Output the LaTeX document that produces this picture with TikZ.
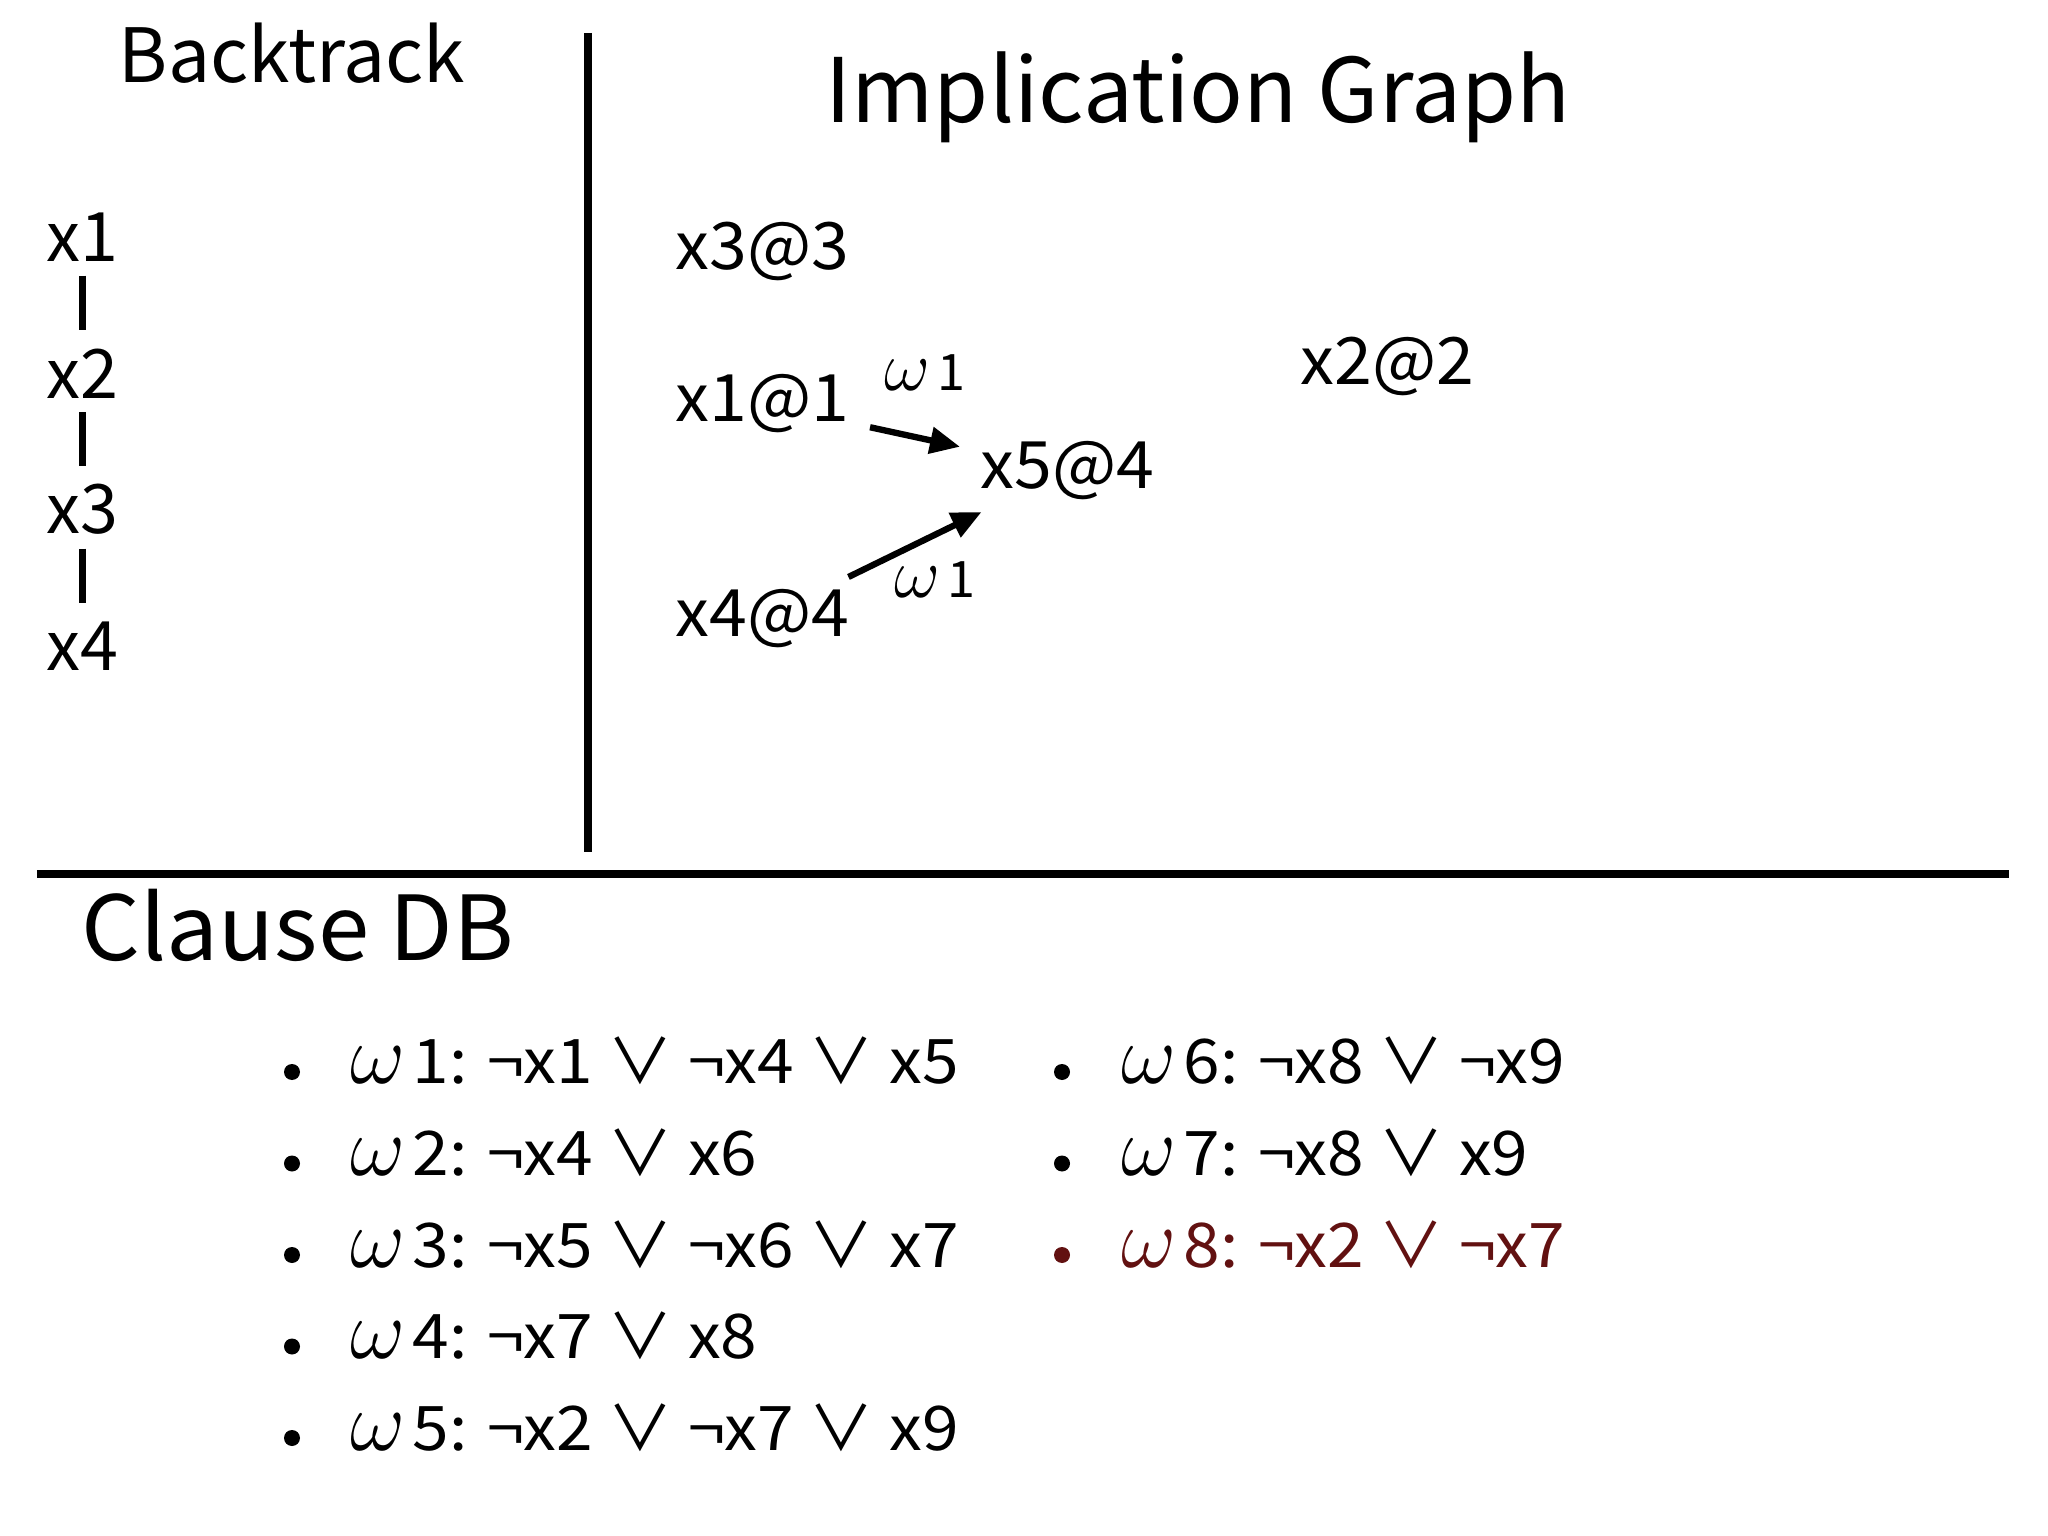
\documentclass[tikz,border=0pt]{standalone}
\usepackage{fontspec}
\setmainfont{Noto Sans CJK JP}
\usepackage{tikz}
\usetikzlibrary{arrows.meta}
\definecolor{clausered}{RGB}{98,17,17}
\newcommand{\om}[1]{\scalebox{1.4}{$\omega$}\kern2pt#1}
\tikzstyle{title}  = [inner sep=0, anchor=base]
\tikzstyle{var}    = [font=\fontsize{19.4}{23}\selectfont, inner sep=0]
\tikzstyle{lit}    = [font=\fontsize{18.6}{22}\selectfont\addfontfeatures{FakeStretch=1.04}, inner xsep=0.2cm, inner ysep=0.12cm]
\tikzstyle{clause} = [font=\fontsize{17.5}{21}\selectfont\addfontfeatures{FakeStretch=1.07}, inner sep=0, anchor=base west]
\tikzstyle{wlabel} = [font=\fontsize{14.3}{17}\selectfont, inner sep=0]
\tikzstyle{arrow}  = [line width=1.8pt, -{Triangle[length=0.3cm, width=0.26cm]}]
\tikzstyle{bar}    = [line width=2pt, shorten <=0.13cm, shorten >=0.18cm]
\tikzstyle{rule}   = [line width=2pt]

\begin{document}
\begin{tikzpicture}
      \fill[white] (0,0) rectangle (20.48,-15.36);
      \useasboundingbox (0,0) rectangle (20.48,-15.36);

      % panels
      \draw [rule] (5.88,-0.33) -- (5.88,-8.52);
      \draw [rule] (0.37,-8.74) -- (20.09,-8.74);

      \node (bt)   [title, font=\fontsize{21.3}{26}\selectfont] at (2.92,-0.83)  {Backtrack};
      \node (ig)   [title, font=\fontsize{25.3}{30}\selectfont] at (11.98,-1.23) {Implication Graph};
      \node (cdb)  [title, font=\fontsize{25.5}{30}\selectfont\addfontfeatures{FakeStretch=1.03}, anchor=base west] at (0.81,-9.60) {Clause DB};

      % backtrack stack
      \node (b1) [var, anchor=base west] at (0.46,-2.62) {x1};
      \node (b2) [var, below of=b1, node distance=1.36cm] {x2};
      \node (b3) [var, below of=b2, node distance=1.36cm] {x3};
      \node (b4) [var, below of=b3, node distance=1.36cm] {x4};

      \draw [bar] (b1) -- (b2);
      \draw [bar] (b2) -- (b3);
      \draw [bar] (b3) -- (b4);

      % implication graph
      \node (x3) [lit, anchor=base west] at (6.55,-2.70) {x3@3};
      \node (x1) [lit, below of=x3, node distance=1.52cm] {x1@1};
      \node (x4) [lit, below of=x1, node distance=2.15cm] {x4@4};
      \node (x5) [lit, anchor=base west] at (9.60,-4.88) {x5@4};
      \node (x2) [lit, anchor=base west] at (12.80,-3.85) {x2@2};

      \draw [arrow] (x1) -- node [wlabel, above=0.43cm, xshift=0.1cm] {\om{1}} (x5);
      \draw [arrow] (x4) -- node [wlabel, below=0.14cm, xshift=0.2cm] {\om{1}} (x5);

      % clause db
      \node (w1) [clause] at (3.50,-10.84)  {\om{1}: ¬x1 ∨ ¬x4 ∨ x5};
      \node (w2) [clause] at (3.50,-11.755) {\om{2}: ¬x4 ∨ x6};
      \node (w3) [clause] at (3.50,-12.67)  {\om{3}: ¬x5 ∨ ¬x6 ∨ x7};
      \node (w4) [clause] at (3.50,-13.585) {\om{4}: ¬x7 ∨ x8};
      \node (w5) [clause] at (3.50,-14.50)  {\om{5}: ¬x2 ∨ ¬x7 ∨ x9};
      \node (w6) [clause] at (11.21,-10.84)  {\om{6}: ¬x8 ∨ ¬x9};
      \node (w7) [clause] at (11.21,-11.755) {\om{7}: ¬x8 ∨ x9};
      \node (w8) [clause, text=clausered] at (11.21,-12.67) {\om{8}: ¬x2 ∨ ¬x7};

      \fill (w1.base west) ++(-0.58,0.12) circle (0.08);
      \fill (w2.base west) ++(-0.58,0.12) circle (0.08);
      \fill (w3.base west) ++(-0.58,0.12) circle (0.08);
      \fill (w4.base west) ++(-0.58,0.12) circle (0.08);
      \fill (w5.base west) ++(-0.58,0.12) circle (0.08);
      \fill (w6.base west) ++(-0.59,0.12) circle (0.08);
      \fill (w7.base west) ++(-0.59,0.12) circle (0.08);
      \fill [clausered] (w8.base west) ++(-0.59,0.12) circle (0.08);

    \end{tikzpicture}
\end{document}
